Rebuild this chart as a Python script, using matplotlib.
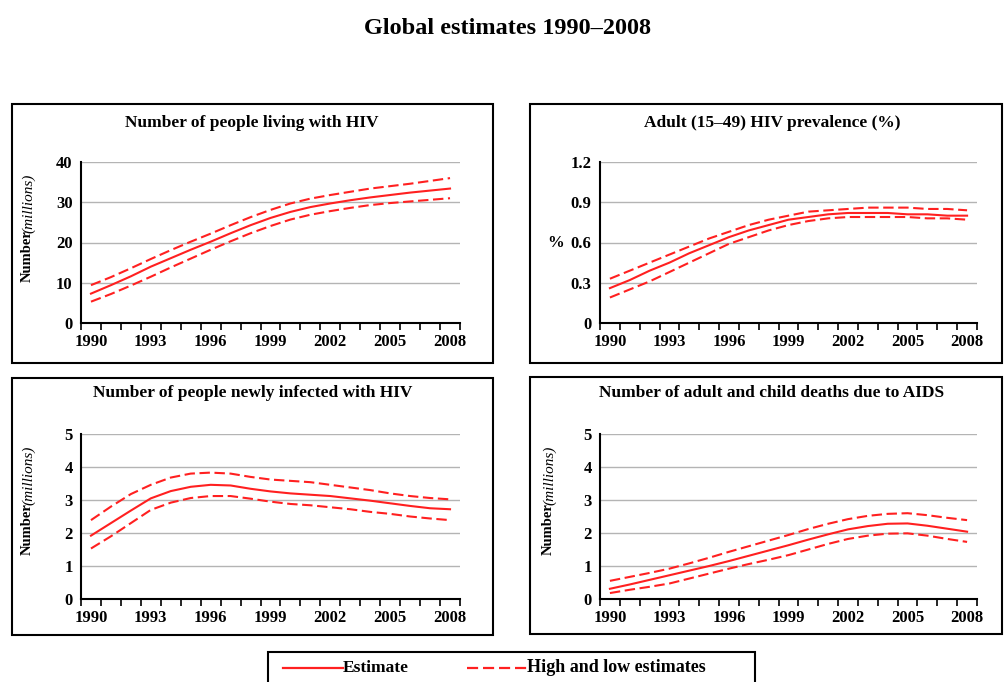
import matplotlib
matplotlib.use("Agg")
import matplotlib.pyplot as plt
from matplotlib.lines import Line2D
from matplotlib.patches import Rectangle
import numpy as np

years = list(range(1990, 2009))
year_labels = ["1990", "1993", "1996", "1999", "2002", "2005", "2008"]

# people living with HIV (millions)
living_est = [7.3, 9.4, 11.6, 14.0, 16.1, 18.2, 20.2, 22.3, 24.3, 26.1, 27.6, 28.8, 29.7, 30.5, 31.2, 31.8, 32.4, 32.9, 33.4]
living_high = [9.4, 11.4, 13.6, 15.9, 18.1, 20.2, 22.2, 24.3, 26.3, 28.1, 29.7, 30.9, 31.8, 32.6, 33.4, 34.0, 34.6, 35.3, 36.0]
living_low = [5.3, 7.2, 9.3, 11.5, 13.8, 16.0, 18.2, 20.3, 22.3, 24.1, 25.7, 26.9, 27.8, 28.6, 29.3, 29.8, 30.2, 30.6, 31.0]

# adult prevalence (%)
prev_est = [0.26, 0.32, 0.39, 0.45, 0.52, 0.58, 0.64, 0.69, 0.73, 0.77, 0.79, 0.81, 0.82, 0.82, 0.82, 0.81, 0.81, 0.80, 0.80]
prev_high = [0.33, 0.39, 0.45, 0.51, 0.57, 0.63, 0.68, 0.73, 0.77, 0.80, 0.83, 0.84, 0.85, 0.86, 0.86, 0.86, 0.85, 0.85, 0.84]
prev_low = [0.19, 0.25, 0.31, 0.38, 0.45, 0.52, 0.59, 0.64, 0.69, 0.73, 0.76, 0.78, 0.79, 0.79, 0.79, 0.79, 0.78, 0.78, 0.77]

# new infections (millions)
new_est = [1.92, 2.30, 2.68, 3.05, 3.27, 3.40, 3.46, 3.44, 3.34, 3.26, 3.20, 3.16, 3.12, 3.05, 2.98, 2.90, 2.82, 2.75, 2.72]
new_high = [2.39, 2.80, 3.18, 3.46, 3.68, 3.80, 3.83, 3.80, 3.70, 3.62, 3.58, 3.54, 3.46, 3.38, 3.30, 3.20, 3.12, 3.06, 3.02]
new_low = [1.53, 1.90, 2.30, 2.70, 2.92, 3.06, 3.12, 3.12, 3.04, 2.95, 2.88, 2.84, 2.78, 2.72, 2.64, 2.58, 2.50, 2.44, 2.39]

# AIDS deaths (millions)
death_est = [0.31, 0.44, 0.58, 0.72, 0.86, 1.00, 1.15, 1.31, 1.47, 1.63, 1.80, 1.96, 2.11, 2.21, 2.28, 2.29, 2.22, 2.13, 2.04]
death_high = [0.55, 0.67, 0.79, 0.92, 1.08, 1.25, 1.43, 1.60, 1.77, 1.94, 2.12, 2.28, 2.42, 2.52, 2.58, 2.60, 2.54, 2.46, 2.39]
death_low = [0.18, 0.28, 0.37, 0.47, 0.62, 0.77, 0.92, 1.06, 1.19, 1.33, 1.50, 1.67, 1.82, 1.92, 1.98, 1.99, 1.92, 1.82, 1.73]

W, H = 1005, 682
RED = "#ff2020"
FONT = ["Liberation Serif", "DejaVu Serif"]

plt.rcParams["font.family"] = FONT
plt.rcParams["font.weight"] = "bold"

fig = plt.figure(figsize=(W / 100, H / 100), dpi=100)


def fx(px):
    return px / W


def fy(py):
    return 1 - py / H


def box(x0, y0, x1, y1):
    fig.add_artist(Rectangle((fx(x0), fy(y1)), fx(x1 - x0), (y1 - y0) / H,
                             fill=False, edgecolor="black", lw=1.5,
                             transform=fig.transFigure, clip_on=False))


def panel(rect, title, title_xy, est, high, low, yticks, yticklabels):
    x0, y0, x1, y1 = rect
    ax = fig.add_axes([fx(x0), fy(y1), fx(x1 - x0), (y1 - y0) / H])
    x = np.arange(len(years))
    ax.plot(x, high, color=RED, lw=1.5, dashes=(5, 2.2))
    ax.plot(x, low, color=RED, lw=1.5, dashes=(5, 2.2))
    ax.plot(x, est, color=RED, lw=1.5)
    ax.set_xlim(-0.5, len(years) - 0.5)
    ax.set_ylim(yticks[0], yticks[-1])
    ax.set_xticks([years.index(int(s)) for s in year_labels])
    ax.set_xticklabels(year_labels)
    ax.set_xticks(np.arange(len(years) + 1) - 0.5, minor=True)
    ax.tick_params(axis="x", which="major", length=0, pad=8, labelsize=12)
    ax.tick_params(axis="x", which="minor", length=5, width=1.2, direction="out")
    ax.set_yticks(yticks)
    ax.set_yticklabels(yticklabels)
    ax.tick_params(axis="y", length=0, pad=6, labelsize=12)
    ax.yaxis.grid(True, color="#b4b4b4", lw=1.0)
    ax.set_axisbelow(True)
    for side in ["top", "right"]:
        ax.spines[side].set_visible(False)
    for side in ["left", "bottom"]:
        ax.spines[side].set_linewidth(1.5)
    fig.text(fx(title_xy[0]), fy(title_xy[1]), title, ha="center", va="center",
             fontsize=12.5, fontweight="bold")
    return ax


def number_label(x, y_num, y_mil):
    # rotated text: bottom of the box is where the word starts
    fig.text(fx(x), fy(y_num), "Number", rotation=90, ha="center", va="bottom",
             fontsize=10.5, fontweight="bold")
    fig.text(fx(x + 2), fy(y_mil), "(millions)", rotation=90, ha="center", va="bottom",
             fontsize=11, fontstyle="italic", fontweight="normal")


# frames around the four panels
box(12, 104, 493, 363)
box(530, 104, 1002, 363)
box(12, 378, 493, 635)
box(530, 377, 1002, 634)

panel((81, 162, 460, 323), "Number of people living with HIV", (252, 123),
      living_est, living_high, living_low,
      [0, 10, 20, 30, 40], ["0", "10", "20", "30", "40"])
panel((600, 162, 977, 323), "Adult (15\u201349) HIV prevalence (%)", (772, 123),
      prev_est, prev_high, prev_low,
      [0, 0.3, 0.6, 0.9, 1.2], ["0", "0.3", "0.6", "0.9", "1.2"])
panel((81, 434, 460, 599), "Number of people newly infected with HIV", (253, 393),
      new_est, new_high, new_low,
      [0, 1, 2, 3, 4, 5], ["0", "1", "2", "3", "4", "5"])
panel((600, 434, 977, 599), "Number of adult and child deaths due to AIDS", (772, 393),
      death_est, death_high, death_low,
      [0, 1, 2, 3, 4, 5], ["0", "1", "2", "3", "4", "5"])

number_label(27, 282, 233)
number_label(27, 555, 505)
number_label(548, 555, 505)
fig.text(fx(556), fy(243), "%", ha="center", va="center", fontsize=12, fontweight="bold")

fig.text(fx(508), fy(28), "Global estimates 1990\u20132008", ha="center", va="center",
         fontsize=17.5, fontweight="bold")

# legend
fig.add_artist(Rectangle((fx(268), fy(690)), fx(755 - 268), (690 - 652) / H,
                         fill=False, edgecolor="black", lw=1.5,
                         transform=fig.transFigure, clip_on=False))
fig.add_artist(Line2D([fx(283), fx(343)], [fy(668), fy(668)], color=RED, lw=1.6,
                      transform=fig.transFigure))
fig.text(fx(343), fy(668), "Estimate", ha="left", va="center", fontsize=12.5, fontweight="bold")
fig.add_artist(Line2D([fx(467), fx(527)], [fy(668), fy(668)], color=RED, lw=1.6,
                      dashes=(5, 2.2), transform=fig.transFigure))
fig.text(fx(527), fy(668), "High and low estimates", ha="left", va="center",
         fontsize=13, fontweight="bold")

fig.savefig("out.png", dpi=100)
